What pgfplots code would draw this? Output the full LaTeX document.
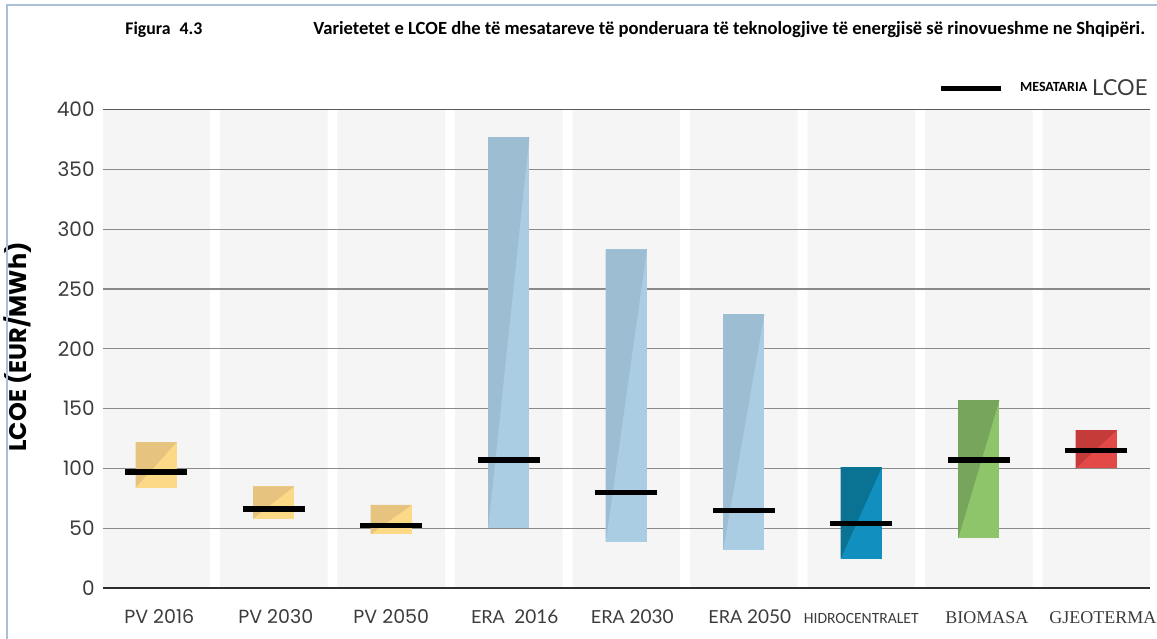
\documentclass[border=0pt]{standalone}
\usepackage{fontspec}
\usepackage{pgfplots}
\usepackage{pgfplotstable}
\pgfplotsset{compat=1.18}
\setmainfont{Carlito}
\newfontfamily\gotham{Poppins}
\newfontfamily\lato{Lato}
\newfontfamily\serifl{Liberation Serif}

\definecolor{colbg}{HTML}{F5F5F5}
\definecolor{gridgray}{HTML}{8A8A8A}
\definecolor{topline}{HTML}{5A5A5A}
\definecolor{axisdark}{HTML}{2E2E2E}
\definecolor{ticktext}{HTML}{3C3C3C}
\definecolor{framecol}{HTML}{A9C1D6}
\definecolor{pvdark}{HTML}{E6C37E}
\definecolor{pvlight}{HTML}{FCD987}
\definecolor{eradark}{HTML}{9CBDD2}
\definecolor{eralight}{HTML}{AACDE3}
\definecolor{hydark}{HTML}{0A7394}
\definecolor{hylight}{HTML}{1190C0}
\definecolor{biodark}{HTML}{77A55B}
\definecolor{biolight}{HTML}{8EC46A}
\definecolor{geodark}{HTML}{C53B39}
\definecolor{geolight}{HTML}{E24A47}

% LCOE range (lo--hi) and weighted mean, EUR/MWh
\pgfplotstableread{
x lo   hi    mean dark    light
0 84   122   97   pvdark  pvlight
1 58   85    66   pvdark  pvlight
2 45   69.5  52   pvdark  pvlight
3 50   377   107  eradark eralight
4 38.5 283   80   eradark eralight
5 32   229   65   eradark eralight
6 24.5 101   54   hydark  hylight
7 41.5 157   107  biodark biolight
8 100  132   115  geodark geolight
}\lcoe

\pgfplotsset{lcoeframe/.style={
  at={(51.5pt,25pt)}, anchor=south west, scale only axis,
  width=523.5pt, height=239.25pt,
  xmin=-0.453, xmax=8.457, ymin=0, ymax=400}}

\begin{document}
\begin{tikzpicture}
\begin{scope}
\clip (0,0) rectangle (578.5pt,319pt);

% category columns behind the grid
\begin{axis}[lcoeframe, hide axis]
\addplot[ybar, bar width=0.915, bar shift=0pt, fill=colbg, draw=none]
  coordinates {(0,400) (1,400) (2,400) (3,400) (4,400) (5,400) (6,400) (7,400) (8,400)};
\end{axis}

\begin{axis}[
  lcoeframe,
  axis x line*=bottom, axis y line*=left,
  x axis line style={line width=1.2pt, color=axisdark},
  y axis line style={draw=none},
  major tick length=0pt,
  xtick={0,...,8},
  xticklabels={
    {\gotham\hspace{3pt}PV 2016},
    {\gotham\hspace{2pt}PV 2030},
    {\gotham PV 2050},
    {\lato\hspace{6pt}{\fontsize{9}{10}\selectfont ERA}\enspace 2016},
    {\lato\hspace{6pt}{\fontsize{9}{10}\selectfont ERA} 2030},
    {\lato\hspace{6pt}{\fontsize{9}{10}\selectfont ERA} 2050},
    {\fontsize{7.8}{9}\selectfont HIDROCENTRALET},
    {\serifl\fontsize{9}{10}\selectfont\hspace{8pt}BIOMASA},
    {\serifl\fontsize{9}{10}\selectfont\hspace{12pt}GJEOTERMAL}},
  xticklabel style={anchor=base, yshift=-17.5pt, inner sep=0pt,
    color=ticktext, font=\fontsize{9.5}{11}\selectfont},
  ytick={0,50,...,400},
  /pgf/number format/assume math mode=true,
  yticklabel style={anchor=east, inner sep=0pt, xshift=-4pt,
    color=ticktext, font=\gotham\fontsize{10}{12}\selectfont},
  ymajorgrids,
  grid style={color=gridgray, line width=0.6pt},
  extra y ticks={400}, extra y tick labels={},
  extra y tick style={grid style={color=topline, line width=0.9pt}},
  every axis y label/.style={at={(axis description cs:-0.0812,0.504)},
    anchor=center, rotate=90},
  ylabel={\gotham\bfseries\fontsize{12}{14}\selectfont LCOE (EUR/MWh)},
  legend style={at={(axis description cs:0.998,1.042)}, anchor=east,
    draw=none, fill=none, inner sep=0pt, nodes={inner sep=0pt},
    column sep=8pt},
  legend cell align=left,
]

% range bars: light rectangle, darker upper-left triangle on top
\pgfplotsforeachungrouped \i in {0,...,8}{%
  \pgfplotstablegetelem{\i}{x}\of\lcoe \let\barx\pgfplotsretval
  \pgfplotstablegetelem{\i}{lo}\of\lcoe \let\barlo\pgfplotsretval
  \pgfplotstablegetelem{\i}{hi}\of\lcoe \let\barhi\pgfplotsretval
  \pgfplotstablegetelem{\i}{dark}\of\lcoe \let\bardark\pgfplotsretval
  \pgfplotstablegetelem{\i}{light}\of\lcoe \let\barlight\pgfplotsretval
  \pgfmathsetmacro\barxa{\barx-0.175}%
  \pgfmathsetmacro\barxb{\barx+0.175}%
  \edef\temp{\noexpand\addplot[draw=none, fill=\barlight, forget plot]
    coordinates {(\barxa,\barlo) (\barxb,\barlo) (\barxb,\barhi) (\barxa,\barhi)};
    \noexpand\addplot[draw=none, fill=\bardark, forget plot]
    coordinates {(\barxa,\barlo) (\barxa,\barhi) (\barxb,\barhi)};}%
  \temp
}

% weighted mean
\addplot[only marks, mark=-, mark size=15.5pt,
  mark options={line width=2.7pt, color=black},
  legend image code/.code={\draw[black, line width=2.6pt] (0pt,0.5pt) -- (30pt,0.5pt);}]
  table[x=x, y=mean]{\lcoe};
\addlegendentry{\raisebox{2pt}{\bfseries\fontsize{7}{8}\selectfont MESATARIA}\hspace{2.5pt}{\lato\fontsize{11}{12}\selectfont\color{ticktext}LCOE}}
\end{axis}

\node[anchor=base west, inner sep=0pt, font=\bfseries\fontsize{8.9}{10}\selectfont]
  at (62.5pt,301.5pt) {Figura\enspace 4.3};
\node[anchor=base west, inner sep=0pt, font=\bfseries\fontsize{9.3}{11}\selectfont]
  at (156.5pt,301.5pt) {Varietetet e LCOE dhe të mesatareve të ponderuara të teknologjive të energjisë së rinovueshme ne Shqipëri.};

\draw[framecol, line width=1pt] (3.5pt,-1pt) -- (3.5pt,316.5pt) -- (580pt,316.5pt);
\end{scope}
\pgfresetboundingbox
\path[use as bounding box] (0,0) rectangle (578.5pt,319pt);
\end{tikzpicture}
\end{document}
